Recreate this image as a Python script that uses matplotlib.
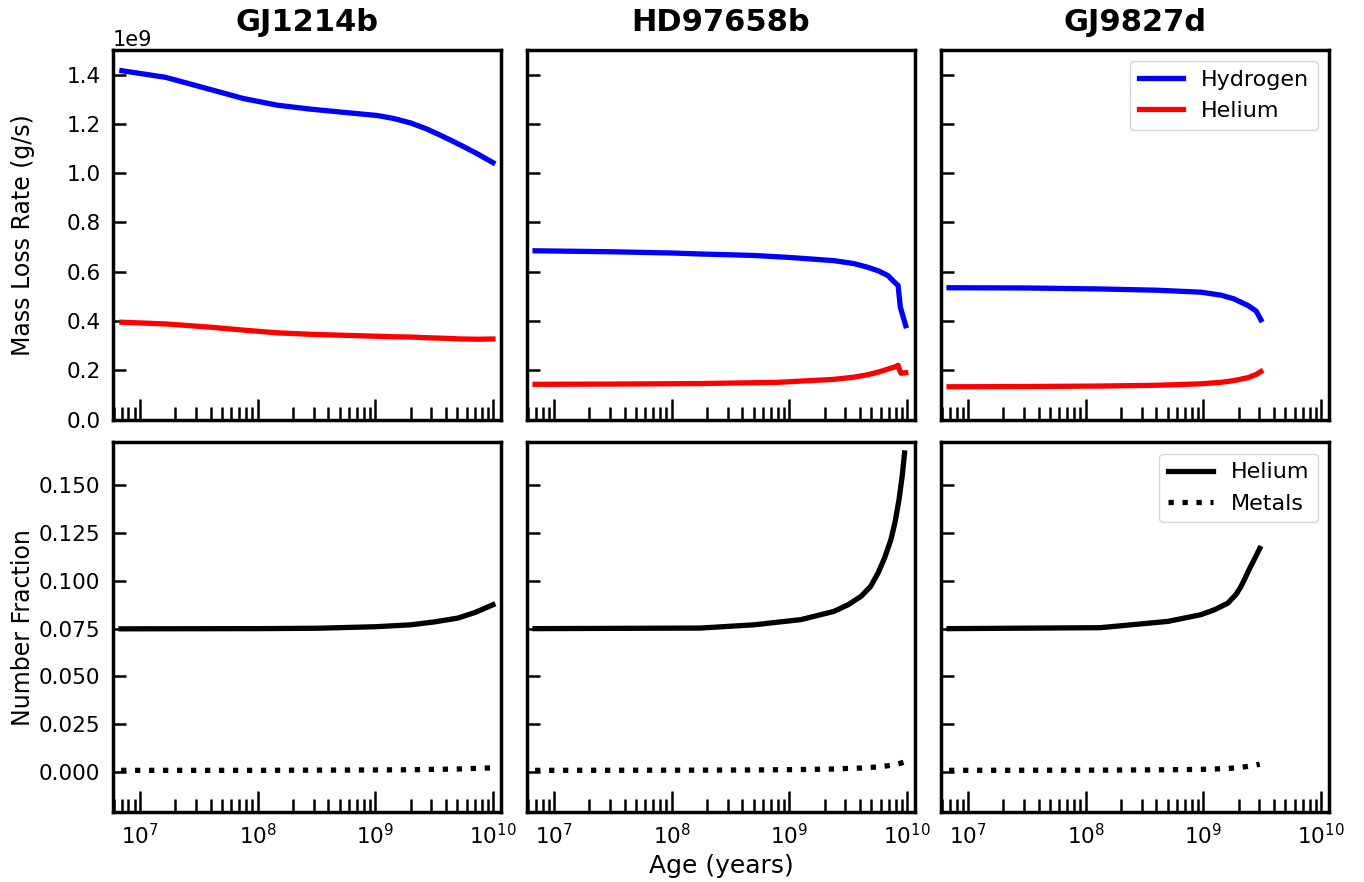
import numpy as np
from matplotlib import pyplot as plt

planets = ['GJ1214b', 'HD97658b', 'GJ9827d']

gj1214_logage = [6.847, 7.22, 7.597, 7.88, 8.168, 8.45, 8.73, 9.02, 9.157, 9.30, 9.44, 9.58, 9.73, 9.87, 10.0]
gj1214_h = [1.416, 1.389, 1.340, 1.303, 1.276, 1.260, 1.247, 1.234, 1.222, 1.204, 1.179, 1.148, 1.113, 1.078, 1.043]
gj1214_he = [0.395, 0.388, 0.375, 0.363, 0.352, 0.346, 0.342, 0.338, 0.336, 0.335, 0.332, 0.330, 0.327, 0.326, 0.327]

hd976_logage = [6.84, 7.5, 8.0, 8.245, 8.7, 9.0, 9.378, 9.55, 9.668, 9.76, 9.84, 9.88, 9.925, 9.944, 9.99]
hd976_h = [0.685, 0.681, 0.676, 0.672, 0.666, 0.658, 0.645, 0.633, 0.618, 0.603, 0.584, 0.564, 0.544, 0.456, 0.381]
hd976_logage_he = [6.84, 7.5, 8.245, 8.9, 9.378, 9.55, 9.668, 9.76, 9.84, 9.90, 9.925, 9.94, 9.95, 9.99]
hd976_he = [0.143, 0.144, 0.146, 0.151, 0.163, 0.172, 0.182, 0.193, 0.205, 0.214, 0.220, 0.198, 0.188, 0.190]

gj9827_logage = [6.84, 7.5, 8.125, 8.6, 8.98, 9.15, 9.26, 9.38, 9.45, 9.49]
gj9827_h = [0.535, 0.534, 0.530, 0.525, 0.517, 0.505, 0.490, 0.463, 0.440, 0.405]
gj9827_he = [0.133, 0.134, 0.136, 0.139, 0.145, 0.151, 0.158, 0.170, 0.183, 0.195]

# number fractions, bottom row
gj1214_flogage = [6.84, 8.0, 8.5, 9.0, 9.3, 9.5, 9.7, 9.85, 10.0]
gj1214_fhe = [0.0749, 0.0750, 0.0752, 0.0760, 0.0770, 0.0785, 0.0805, 0.0835, 0.0875]
gj1214_fz = [0.0008, 0.0008, 0.0009, 0.0010, 0.0011, 0.0013, 0.0015, 0.0018, 0.0021]

hd976_flogage = [6.84, 8.245, 8.7, 9.097, 9.378, 9.5, 9.61, 9.69, 9.754, 9.81, 9.864, 9.90, 9.933, 9.96, 9.98]
hd976_fhe = [0.0750, 0.0753, 0.0770, 0.0797, 0.0840, 0.0875, 0.0919, 0.0970, 0.1040, 0.1120, 0.1216, 0.1310, 0.1426, 0.1550, 0.1670]
hd976_fz = [0.0008, 0.0009, 0.0010, 0.0012, 0.0015, 0.0018, 0.0020, 0.0023, 0.0026, 0.0030, 0.0034, 0.0039, 0.0043, 0.0048, 0.0052]

gj9827_flogage = [6.84, 8.125, 8.70, 8.98, 9.1, 9.21, 9.28, 9.32, 9.36, 9.39, 9.44, 9.48]
gj9827_fhe = [0.0750, 0.0755, 0.0788, 0.0823, 0.0850, 0.0884, 0.0930, 0.0970, 0.1020, 0.1060, 0.1120, 0.1170]
gj9827_fz = [0.0008, 0.0009, 0.0011, 0.0013, 0.0015, 0.0018, 0.0021, 0.0024, 0.0027, 0.0030, 0.0035, 0.0040]

rates = [(gj1214_logage, gj1214_h, gj1214_logage, gj1214_he),
         (hd976_logage, hd976_h, hd976_logage_he, hd976_he),
         (gj9827_logage, gj9827_h, gj9827_logage, gj9827_he)]
fracs = [(gj1214_flogage, gj1214_fhe, gj1214_fz),
         (hd976_flogage, hd976_fhe, hd976_fz),
         (gj9827_flogage, gj9827_fhe, gj9827_fz)]

fig, axes = plt.subplots(2, 3, figsize=(13.64, 8.82), dpi=100, sharex=True, sharey='row')
plt.subplots_adjust(left=0.0828, right=0.9743, top=0.9433, bottom=0.0794, wspace=0.067, hspace=0.062)

lw = 3.8
for i in range(3):
    ax = axes[0, i]
    la, h, lb, he = rates[i]
    ax.plot(10**np.array(la), np.array(h) * 1e9, color='blue', lw=lw, label='Hydrogen')
    ax.plot(10**np.array(lb), np.array(he) * 1e9, color='red', lw=lw, label='Helium')
    ax.set_title(planets[i], fontsize=22, fontweight='bold', pad=14)

    ax = axes[1, i]
    la, fhe, fz = fracs[i]
    ax.plot(10**np.array(la), fhe, color='black', lw=lw, label='Helium')
    ax.plot(10**np.array(la), fz, color='black', lw=lw, ls=':', label='Metals')

for ax in axes.flat:
    ax.set_xscale('log')
    for s in ax.spines.values():
        s.set_linewidth(2.5)
    ax.tick_params(axis='both', which='both', direction='in', width=1.8, labelsize=15.5)
    ax.tick_params(axis='x', which='major', length=15, pad=8)
    ax.tick_params(axis='x', which='minor', length=9.5)
    ax.tick_params(axis='y', which='major', length=9.5, pad=9)

axes[0, 0].set_xlim(5.9e6, 1.17e10)
axes[0, 0].set_ylim(0, 1.5e9)
axes[0, 0].set_yticks(np.arange(0, 1.41e9, 0.2e9))
axes[0, 0].yaxis.get_offset_text().set_fontsize(15)
axes[1, 0].set_ylim(-0.021, 0.1725)
axes[1, 0].set_yticks(np.arange(0, 0.151, 0.025))

axes[0, 0].set_ylabel('Mass Loss Rate (g/s)', fontsize=17)
axes[1, 0].set_ylabel('Number Fraction', fontsize=17)
axes[0, 0].yaxis.set_label_coords(-0.20, 0.5)
axes[1, 0].yaxis.set_label_coords(-0.20, 0.5)
axes[1, 1].set_xlabel('Age (years)', fontsize=18)

axes[0, 2].legend(loc='upper right', fontsize=16)
axes[1, 2].legend(loc='upper right', fontsize=16)

plt.savefig('out.png')
